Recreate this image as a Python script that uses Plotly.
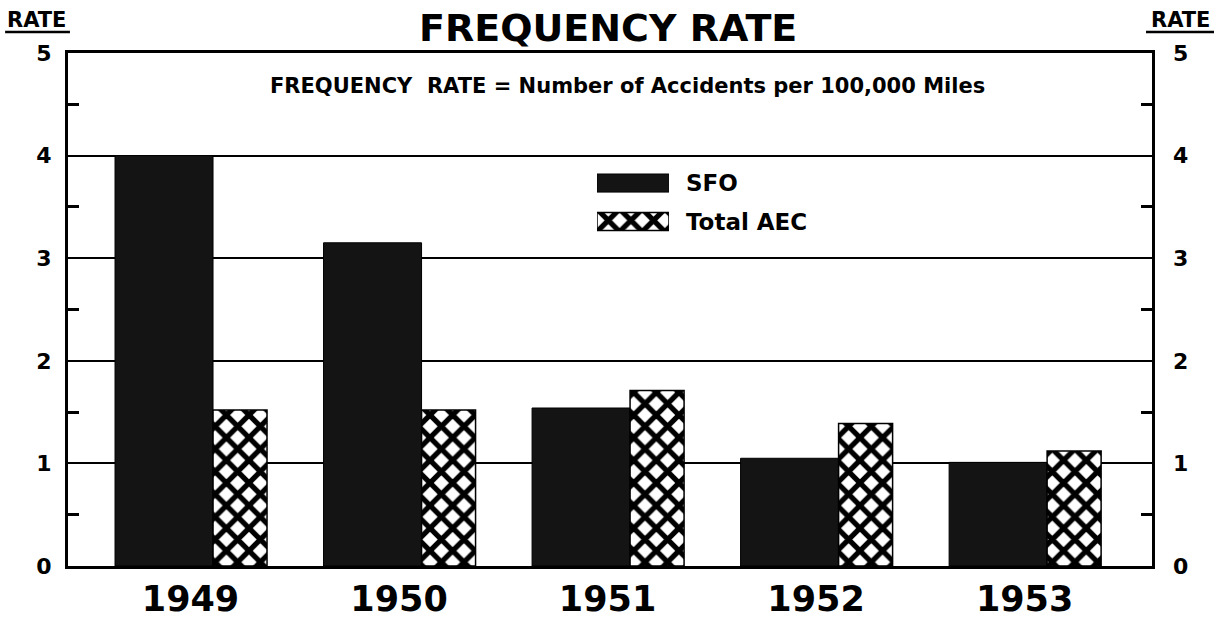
import plotly.graph_objects as go

# Accident frequency rates (accidents per 100,000 miles)
years = ["1949", "1950", "1951", "1952", "1953"]
sfo_rate = [4.0, 3.15, 1.54, 1.05, 1.01]
aec_rate = [1.52, 1.52, 1.71, 1.39, 1.12]
series_names = ["SFO", "Total AEC"]
rate_ticks = [0, 1, 2, 3, 4, 5]
half_ticks = [0.5, 1.5, 2.5, 3.5, 4.5]

FONT = "DejaVu Sans"
INK = "black"
SFO_FILL = "#141414"

xpos = list(range(len(years)))

aec_pattern = dict(shape="x", fgcolor=INK, bgcolor="white", size=16,
                   solidity=0.55, fillmode="replace")

fig = go.Figure()

# Main bars: a wide SFO bar followed by a narrower Total AEC bar per year
fig.add_trace(go.Bar(
    x=xpos, y=sfo_rate, name=series_names[0],
    width=0.47, offset=-0.362,
    marker=dict(color=SFO_FILL, line=dict(color=INK, width=1)),
    showlegend=False, xaxis="x", yaxis="y",
))
fig.add_trace(go.Bar(
    x=xpos, y=aec_rate, name=series_names[1],
    width=0.259, offset=0.108,
    marker=dict(color="white", pattern=aec_pattern,
                line=dict(color=INK, width=1.5)),
    showlegend=False, xaxis="x", yaxis="y",
))

# Same SFO values on the right-hand rate axis (markers hidden) so it renders
fig.add_trace(go.Scatter(
    x=xpos, y=sfo_rate, mode="markers", marker=dict(opacity=0),
    showlegend=False, hoverinfo="skip", xaxis="x", yaxis="y3",
))

# Key: swatches drawn as horizontal bars on a small inset axis
fig.add_trace(go.Bar(
    x=[1], y=[series_names[0]], orientation="h", width=0.47,
    marker=dict(color=SFO_FILL, line=dict(color=INK, width=1)),
    showlegend=False, xaxis="x2", yaxis="y2", hoverinfo="skip",
))
fig.add_trace(go.Bar(
    x=[1], y=[series_names[1]], orientation="h", width=0.47,
    marker=dict(color="white", pattern=aec_pattern,
                line=dict(color=INK, width=1.5)),
    showlegend=False, xaxis="x2", yaxis="y2", hoverinfo="skip",
))

tick_font = dict(family=FONT, size=22, color=INK, weight="bold")
minor_ticks = dict(tickvals=half_ticks, ticks="inside", ticklen=11,
                   tickwidth=2.5, tickcolor=INK, showgrid=False)

fig.update_layout(
    width=1218, height=619,
    margin=dict(l=68, r=66, t=53, b=53),
    paper_bgcolor="white", plot_bgcolor="white",
    barmode="overlay",
    font=dict(family=FONT, color=INK),
    xaxis=dict(
        range=[-0.5875, 4.611], tickvals=xpos, ticktext=years,
        showgrid=False, zeroline=False, automargin=False,
        showline=True, linewidth=3, linecolor=INK, mirror=True,
        ticks="", ticklabelstandoff=0,
        tickfont=dict(family=FONT, size=35, color=INK, weight="bold"),
    ),
    yaxis=dict(
        range=[0, 5], tickvals=rate_ticks, automargin=False,
        showgrid=True, gridcolor=INK, gridwidth=2, zeroline=False,
        showline=True, linewidth=3, linecolor=INK, mirror=True,
        ticks="", ticklabelstandoff=9, tickfont=tick_font,
        minor=minor_ticks,
    ),
    yaxis3=dict(
        range=[0, 5], tickvals=rate_ticks, overlaying="y", side="right",
        anchor="x", showgrid=False, zeroline=False, showline=False,
        automargin=False, ticks="", ticklabelstandoff=20, tickfont=tick_font,
        minor=minor_ticks,
    ),
    xaxis2=dict(
        domain=[0.488, 0.5544], anchor="y2", range=[0, 1],
        visible=False, fixedrange=True, automargin=False,
    ),
    yaxis2=dict(
        domain=[0.634, 0.784], anchor="x2", type="category",
        categoryorder="array", categoryarray=series_names,
        autorange="reversed", side="right", showgrid=False, automargin=False,
        showline=False, zeroline=False, ticks="", ticklabelstandoff=16,
        tickfont=dict(family=FONT, size=23, color=INK, weight="bold"),
    ),
    annotations=[
        dict(text="<b>FREQUENCY RATE</b>", x=0.498, y=1.0487,
             xref="paper", yref="paper", showarrow=False,
             xanchor="center", yanchor="middle",
             font=dict(family=FONT, size=38, color=INK)),
        dict(text="<b>FREQUENCY  RATE = Number of Accidents per 100,000 Miles</b>",
             x=0.5157, y=0.9357, xref="paper", yref="paper", showarrow=False,
             xanchor="center", yanchor="middle",
             font=dict(family=FONT, size=21, color=INK)),
        dict(text="<b>RATE</b>", x=-0.0286, y=1.064, xref="paper", yref="paper",
             showarrow=False, xanchor="center", yanchor="middle",
             font=dict(family=FONT, size=21, color=INK)),
        dict(text="<b>RATE</b>", x=1.0267, y=1.064, xref="paper", yref="paper",
             showarrow=False, xanchor="center", yanchor="middle",
             font=dict(family=FONT, size=21, color=INK)),
    ],
    shapes=[
        dict(type="line", xref="paper", yref="paper",
             x0=-0.058, x1=0.0018, y0=1.041, y1=1.041,
             line=dict(color=INK, width=2.5)),
        dict(type="line", xref="paper", yref="paper",
             x0=0.9945, x1=1.0572, y0=1.041, y1=1.041,
             line=dict(color=INK, width=2.5)),
    ],
)

fig.write_html("out.html")
